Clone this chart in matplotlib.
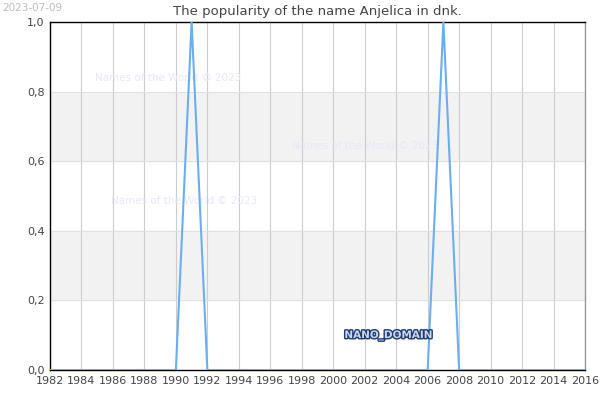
import matplotlib.pyplot as plt
import matplotlib.patheffects as pe

# ---------- data ----------
years = list(range(1982, 2017))
popularity = [0.0] * len(years)
popularity[years.index(1991)] = 1.0
popularity[years.index(2007)] = 1.0
x_ticks = list(range(1982, 2017, 2))
y_ticks = [0.0, 0.2, 0.4, 0.6, 0.8, 1.0]

line_blue = "#6aaef0"
text_gray = "#444444"
grid_gray = "#cccccc"
band_gray = "#f2f2f2"

fig = plt.figure(figsize=(6, 4), dpi=100)
ax = fig.add_axes([50 / 600, 30 / 400, 535 / 600, 348 / 400])

# alternating bands
for lo, hi in [(0.2, 0.4), (0.6, 0.8)]:
    ax.axhspan(lo, hi, color=band_gray, zorder=0)

ax.plot(years, popularity, color=line_blue, linewidth=1.5, zorder=3)

ax.set_xlim(1982, 2016)
ax.set_ylim(0, 1)
ax.set_xticks(x_ticks)
ax.set_yticks(y_ticks)
ax.set_yticklabels([f"{v:.1f}".replace(".", ",") for v in y_ticks])
ax.tick_params(labelsize=8, colors=text_gray, length=0, pad=4)
ax.grid(axis="x", color=grid_gray, linewidth=0.8, zorder=1)
ax.grid(axis="y", color="#e0e0e0", linewidth=0.8, zorder=1)
for s in ax.spines.values():
    s.set_color("black")
    s.set_linewidth(1)
ax.spines["right"].set_color("#999999")

ax.set_title("The popularity of the name Anjelica in dnk.", fontsize=9.5,
             color=text_gray, pad=5)
fig.text(0.003, 0.993, "2023-07-09", fontsize=7.5, color="#bbbbbb", va="top")

wm = "#e8e8f8"
for tx, ty in [(1989.5, 0.84), (2002, 0.645), (1990.5, 0.485)]:
    ax.text(tx, ty, "Names of the World \u00a9 2023", fontsize=7.5, color=wm,
            ha="center", va="center", zorder=2)

ax.text(2003.5, 0.1, "NANO_DOMAIN", fontsize=7.5, color="#c8d8f0",
        ha="center", va="center", weight="bold", zorder=4,
        path_effects=[pe.withStroke(linewidth=2, foreground="#1f3a6e")])

fig.savefig("out.png")
